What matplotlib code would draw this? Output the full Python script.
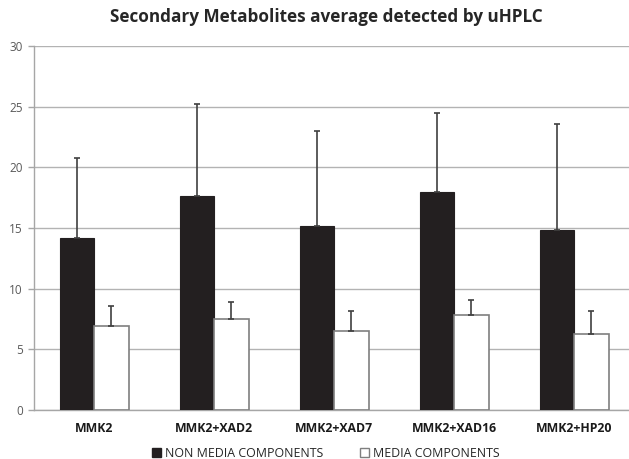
import matplotlib
matplotlib.use("Agg")
import matplotlib.pyplot as plt
import numpy as np
from matplotlib.patches import Rectangle

categories = ["MMK2", "MMK2+XAD2", "MMK2+XAD7", "MMK2+XAD16", "MMK2+HP20"]
non_media = [14.2, 17.6, 15.2, 18.0, 14.8]
non_media_err = [6.6, 7.6, 7.8, 6.5, 8.8]
media = [6.9, 7.5, 6.5, 7.8, 6.3]
media_err = [1.7, 1.4, 1.7, 1.3, 1.85]
yticks = [0, 5, 10, 15, 20, 25, 30]

plt.rcParams['font.family'] = ['Open Sans', 'DejaVu Sans']

fig = plt.figure(figsize=(6.29, 4.59), dpi=100)
ax = fig.add_axes([34/629, 49/459, 600/629, 364/459])

x = np.arange(len(categories))
w = 0.2875
ax.bar(x - w/2, non_media, width=w, color="#231f20", edgecolor="#231f20", linewidth=0.8, zorder=3)
ax.bar(x + w/2, media, width=w, color="white", edgecolor="#7f7f7f", linewidth=1.2, zorder=3)
ax.errorbar(x - w/2, non_media, yerr=[np.zeros(len(x)), non_media_err], fmt="none",
            ecolor="#404040", elinewidth=1.2, capsize=2.5, capthick=1.2, zorder=4)
ax.errorbar(x + w/2, media, yerr=[np.zeros(len(x)), media_err], fmt="none",
            ecolor="#404040", elinewidth=1.2, capsize=2.5, capthick=1.2, zorder=4)

ax.set_xlim(-0.5, len(categories) - 0.5)
ax.set_ylim(0, 30)
ax.set_yticks(yticks)
ax.set_yticklabels([str(t) for t in yticks], fontsize=8.5, color="#595959")
ax.set_xticks(x)
ax.set_xticklabels(categories, fontsize=8.8, fontweight="bold", color="#1a1a1a")
ax.tick_params(axis="x", length=0, pad=9)
ax.tick_params(axis="y", length=4, color="#a6a6a6", width=1, pad=4)
ax.yaxis.grid(True, color="#b3b3b3", linewidth=1)
ax.set_axisbelow(True)
for s in ["top", "right"]:
    ax.spines[s].set_visible(False)
ax.spines["left"].set_color("#a6a6a6")
ax.spines["bottom"].set_color("#a6a6a6")
ax.spines["left"].set_linewidth(1)
ax.spines["bottom"].set_linewidth(1)

fig.text(0.519, 0.963, "Secondary Metabolites average detected by uHPLC",
         ha="center", va="center", fontsize=12.3, fontweight="bold", color="#262626")

handles = [Rectangle((0, 0), 1, 1, facecolor="#231f20", edgecolor="#231f20"),
           Rectangle((0, 0), 1, 1, facecolor="white", edgecolor="#7f7f7f")]
fig.legend(handles, ["NON MEDIA COMPONENTS", "MEDIA COMPONENTS"], loc="center",
           bbox_to_anchor=(0.518, 0.012), ncol=2, frameon=False, fontsize=8.9,
           handlelength=0.7, handleheight=0.7, handletextpad=0.3, columnspacing=3.0,
           labelcolor="#262626")

fig.savefig("out.png", dpi=100)
